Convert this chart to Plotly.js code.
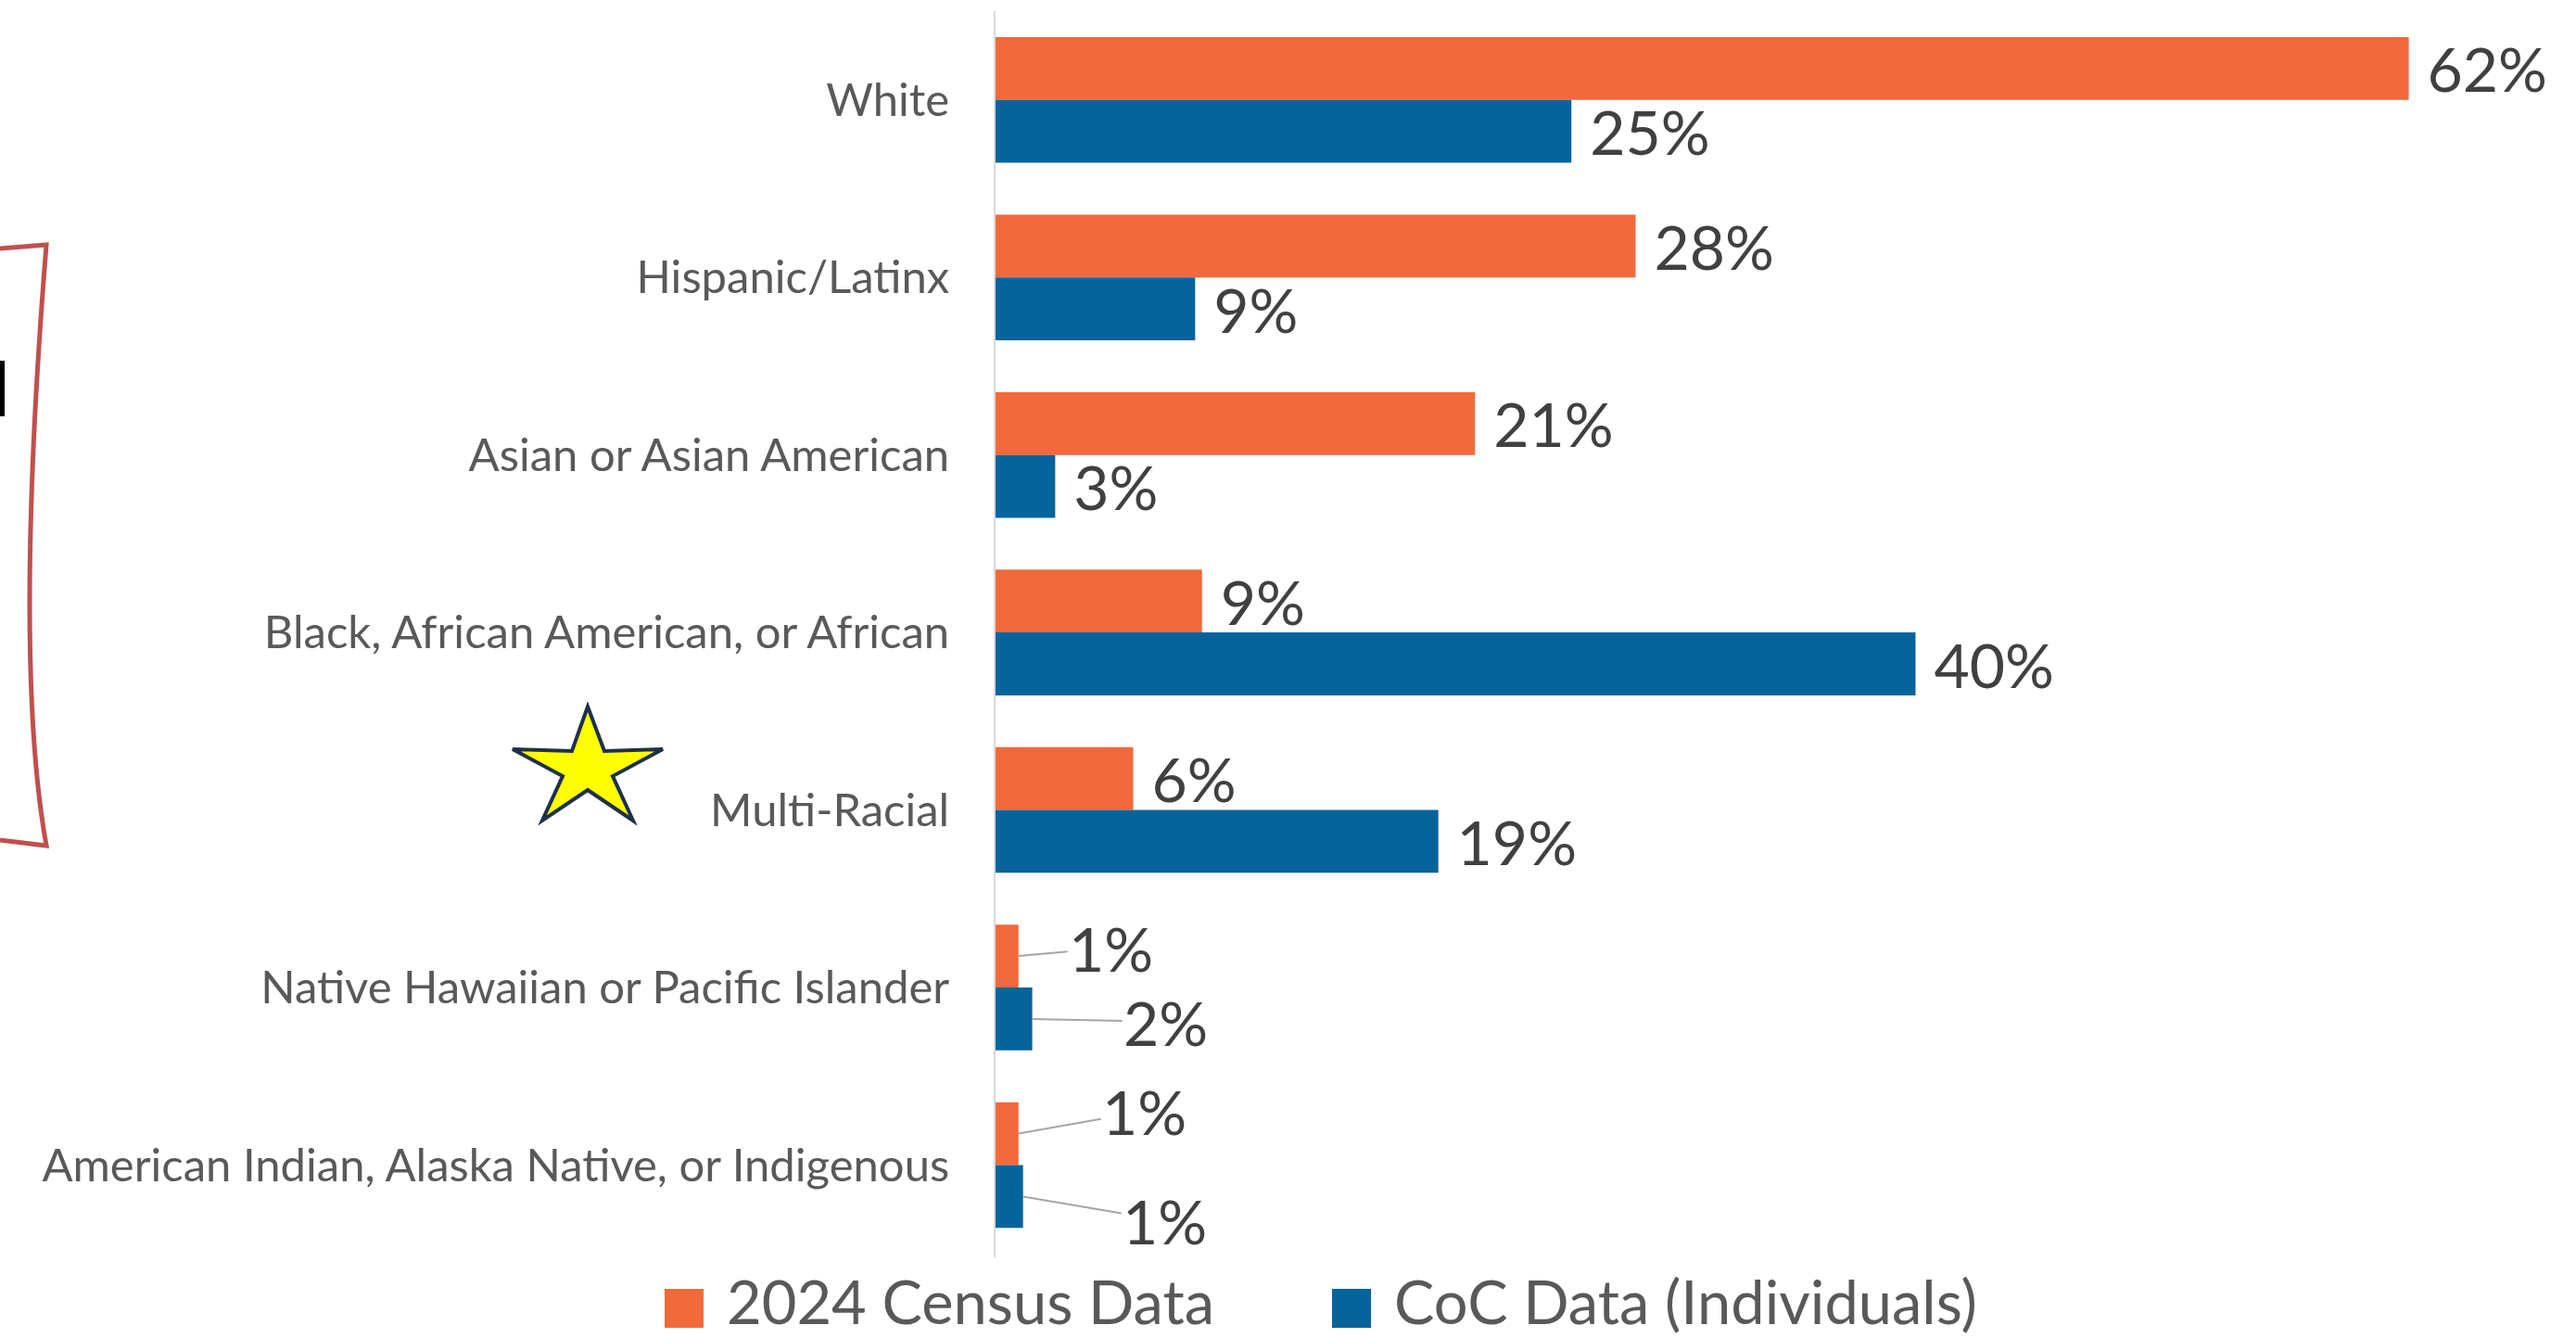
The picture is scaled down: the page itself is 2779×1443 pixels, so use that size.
<!DOCTYPE html>
<html>
<head>
<meta charset="utf-8">
<script src="https://cdn.plot.ly/plotly-3.0.1.min.js"></script>
<style>html,body{margin:0;padding:0;background:#fff;}#chart{width:2779px;height:1443px;}</style>
</head>
<body>
<div id="chart"></div>
<script>
// ---- data ----
var categories = ["White", "Hispanic/Latinx", "Asian or Asian American", "Black, African American, or African", "Multi-Racial", "Native Hawaiian or Pacific Islander", "American Indian, Alaska Native, or Indigenous"];
var seriesNames = ["2024 Census Data", "CoC Data (Individuals)"];
var censusValues = [61.6, 27.9, 20.9, 9.0, 6.0, 1.0, 1.0];
var cocValues = [25.1, 8.7, 2.6, 40.1, 19.3, 1.6, 1.2];

// ---- geometry / style ----
var W = 2779, H = 1443;
var L = 1074, T = 12, B = 87, PW = 1680;
var PH = H - T - B;
var pxPerUnit = 24.75;
var colors = ["#F2693C", "#06649B"];
var FONT = "Lato, 'Open Sans', sans-serif";

function px(x){ return (x - L) / PW; }
function py(y){ return (H - B - y) / PH; }
function pathFrom(pts, close){
  var s = pts.map(function(p, i){ return (i ? "L" : "M") + px(p[0]).toFixed(5) + "," + py(p[1]).toFixed(5); }).join(" ");
  return close ? s + " Z" : s;
}

// small values get leader-line labels instead of bar text
var smallIdx = [5, 6];
function textPos(vals){ return vals.map(function(v, i){ return smallIdx.indexOf(i) >= 0 ? "none" : "outside"; }); }

var labelFont = {family: FONT, size: 66, color: "#404040"};
var traces = [
  {type: "bar", orientation: "h", name: seriesNames[0], y: categories, x: censusValues,
   marker: {color: colors[0]}, texttemplate: "\u00a0%{x:.0f}%", textposition: textPos(censusValues),
   textfont: labelFont, constraintext: "none", cliponaxis: false, showlegend: false, hoverinfo: "none"},
  {type: "bar", orientation: "h", name: seriesNames[1], y: categories, x: cocValues,
   marker: {color: colors[1]}, texttemplate: "\u00a0%{x:.0f}%", textposition: textPos(cocValues),
   textfont: labelFont, constraintext: "none", cliponaxis: false, showlegend: false, hoverinfo: "none"}
];

// leader-line label offsets (pixels): [series][category]
var leaderOffsets = {
  0: {5: [100, -9], 6: [136, -24]},
  1: {5: [144, 3], 6: [153, 26]}
};
var annotations = [];
[censusValues, cocValues].forEach(function(vals, s){
  smallIdx.forEach(function(i){
    var off = leaderOffsets[s][i];
    annotations.push({
      x: vals[i], y: categories[i], xref: "x", yref: "y",
      yshift: s === 0 ? 34 : -34,
      text: Math.round(vals[i]) + "%", showarrow: true, arrowhead: 0, arrowwidth: 2,
      arrowcolor: "#A6A6A6", ax: off[0], ay: off[1], standoff: 0,
      font: labelFont
    });
  });
});

// custom legend
var shapes = [];
var legendX = [[717, 782], [1437, 1502]];
seriesNames.forEach(function(n, s){
  shapes.push({type: "rect", xref: "paper", yref: "paper",
    x0: px(legendX[s][0]), x1: px(legendX[s][0] + 42), y0: py(1390), y1: py(1432),
    fillcolor: colors[s], line: {width: 0}});
  annotations.push({xref: "paper", yref: "paper", x: px(legendX[s][1]), y: py(1403),
    xanchor: "left", yanchor: "middle", showarrow: false, text: n,
    font: {family: FONT, size: 65, color: "#595959"}});
});

// star decoration
var star = [[634,762],[652,810],[715,808],[661,837],[683,885],[634,852],[585,885],[607,837],[553,808],[617,810]];
shapes.push({type: "path", xref: "paper", yref: "paper", path: pathFrom(star, true),
  fillcolor: "#FFFF00", line: {color: "#1F3049", width: 4}});

// red bracket decoration
var bracket = "M" + px(0) + "," + py(268) + " L" + px(50) + "," + py(264) +
  " Q" + px(14) + "," + py(712) + " " + px(50) + "," + py(912) + " L" + px(0) + "," + py(906);
shapes.push({type: "path", xref: "paper", yref: "paper", path: bracket,
  line: {color: "#C0504D", width: 5}});
// cut-off black mark
shapes.push({type: "rect", xref: "paper", yref: "paper", x0: px(0), x1: px(5), y0: py(449), y1: py(389),
  fillcolor: "#000000", line: {width: 0}});

var layout = {
  width: W, height: H,
  margin: {l: L, r: W - L - PW, t: T, b: B, pad: 0},
  paper_bgcolor: "#ffffff", plot_bgcolor: "#ffffff",
  barmode: "group", bargap: 0.292, bargroupgap: 0,
  showlegend: false,
  xaxis: {range: [0, PW / pxPerUnit], visible: false, fixedrange: true},
  yaxis: {autorange: "reversed", type: "category", showline: true, linecolor: "#D9D9D9", linewidth: 2,
    ticks: "", showgrid: false, zeroline: false, ticklabelstandoff: 38,
    tickfont: {family: FONT, size: 49, color: "#595959"}},
  shapes: shapes,
  annotations: annotations,
  font: {family: FONT}
};

Plotly.newPlot("chart", traces, layout, {displayModeBar: false, staticPlot: true});
</script>
</body>
</html>
